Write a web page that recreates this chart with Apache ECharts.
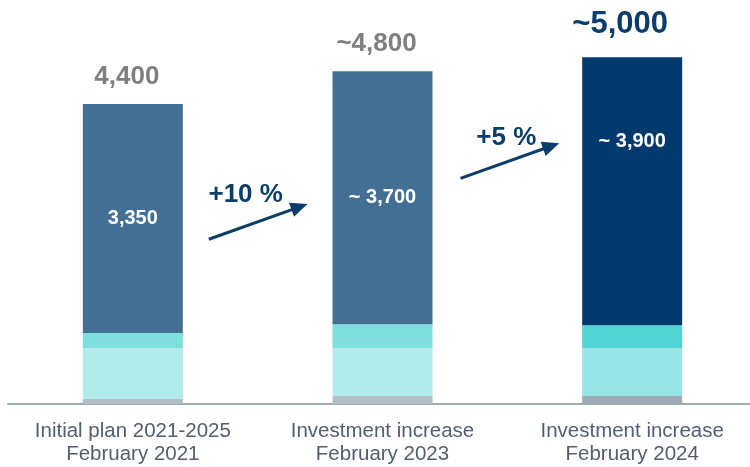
<!DOCTYPE html>
<html>
<head>
<meta charset="utf-8">
<style>html,body{margin:0;padding:0;background:#fff;}#c{width:750px;height:467px;}</style>
<script src="https://cdn.jsdelivr.net/npm/echarts@6/dist/echarts.min.js"></script>
</head>
<body>
<div id="c"></div>
<script>
var categories = ['Initial plan 2021-2025\nFebruary 2021', 'Investment increase\nFebruary 2023', 'Investment increase\nFebruary 2024'];
var grayValues = [75, 117, 117];
var lightValues = [745, 700, 700];
var tealValues = [220, 350, 336];
var darkValues = [3350, 3700, 3920];
var darkLabels = ['3,350', '~ 3,700', '~ 3,900'];
var totalValues = [4390, 4867, 5073];
var totalLabels = ['4,400', '~4,800', '~5,000'];
var growthLabels = ['+10 %', '+5 %'];

var grayColors = ['#b3bfc7', '#b3bfc7', '#9eabb7'];
var lightColors = ['#b1ebeb', '#b1ebeb', '#97e4e4'];
var tealColors = ['#7fdfdc', '#7fdfdc', '#52d4d4'];
var darkColors = ['#436f94', '#436f94', '#033a6e'];

function mk(vals, cols) {
  return vals.map(function (v, i) { return { value: v, itemStyle: { color: cols[i] } }; });
}

var chart = echarts.init(document.getElementById('c'));
var darkData = darkValues.map(function (v, i) {
  var d = { value: v, itemStyle: { color: darkColors[i] } };
  if (i === 2) d.label = { offset: [0, -50] };
  return d;
});

var totalData = totalValues.map(function (v, i) {
  var d = { value: v };
  if (i === 2) {
    d.label = { fontSize: 31, color: '#0a3d6e', distance: 17, offset: [-12, 0] };
  }
  return d;
});

chart.setOption({
  animation: false,
  grid: { left: 8, width: 749, top: 28, bottom: 63, containLabel: false, outerBoundsMode: 'none' },
  xAxis: {
    type: 'category',
    data: categories,
    axisLine: { lineStyle: { color: '#a0aab4', width: 2 } },
    axisTick: { show: false },
    axisLabel: {
      color: '#535e70', fontSize: 20.5, fontFamily: 'Liberation Sans, Arial, sans-serif',
      lineHeight: 23, margin: 16, interval: 0, hideOverlap: false
    }
  },
  yAxis: { type: 'value', min: 0, max: 5500, show: false, splitLine: { show: false } },
  series: [
    { type: 'bar', stack: 's', barWidth: 100, data: mk(grayValues, grayColors) },
    { type: 'bar', stack: 's', barWidth: 100, data: mk(lightValues, lightColors) },
    { type: 'bar', stack: 's', barWidth: 100, data: mk(tealValues, tealColors) },
    {
      type: 'bar', stack: 's', barWidth: 100, data: darkData,
      label: {
        show: true, position: 'inside', color: '#ffffff', fontWeight: 'bold', fontSize: 20,
        fontFamily: 'Liberation Sans, Arial, sans-serif',
        formatter: function (p) { return darkLabels[p.dataIndex]; }
      }
    },
    {
      type: 'scatter', symbolSize: 0, data: totalData, z: 5,
      itemStyle: { opacity: 1 },
      label: {
        show: true, position: 'top', distance: 14, offset: [-6, 0],
        color: '#7f7f7f', fontWeight: 'bold', fontSize: 26, opacity: 1,
        fontFamily: 'Liberation Sans, Arial, sans-serif',
        formatter: function (p) { return totalLabels[p.dataIndex]; }
      }
    }
  ]
});

// Growth arrows, positioned relative to the bar centres
function arrow(x1, y1, x2, y2, color) {
  var dx = x2 - x1, dy = y2 - y1, L = Math.sqrt(dx * dx + dy * dy);
  var ux = dx / L, uy = dy / L, nx = -uy, ny = ux;
  var hl = 17, hw = 7.5;
  var bx = x2 - hl * ux, by = y2 - hl * uy;
  return [
    { type: 'line', shape: { x1: x1, y1: y1, x2: bx + 2 * ux, y2: by + 2 * uy }, style: { stroke: color, lineWidth: 3 } },
    { type: 'polygon', shape: { points: [[x2, y2], [bx + hw * nx, by + hw * ny], [bx - hw * nx, by - hw * ny]] }, style: { fill: color } }
  ];
}
var c0 = chart.convertToPixel({ xAxisIndex: 0 }, 0);
var c1 = chart.convertToPixel({ xAxisIndex: 0 }, 1);
var c2 = chart.convertToPixel({ xAxisIndex: 0 }, 2);
function py(v) { return chart.convertToPixel({ yAxisIndex: 0 }, v); }
var col = '#0b3d6b';
var els = [];
els = els.concat(arrow(c0 + 76, py(2410), c1 - 75, py(2925), col));
els = els.concat(arrow(c1 + 78, py(3300), c2 - 73, py(3815), col));
els.push({ type: 'text', style: { text: growthLabels[0], x: (c0 + c1) / 2 - 12, y: py(3060), fill: col, font: 'bold 26px "Liberation Sans", Arial, sans-serif', align: 'center', verticalAlign: 'middle' } });
els.push({ type: 'text', style: { text: growthLabels[1], x: (c1 + c2) / 2 - 1, y: py(3890), fill: col, font: 'bold 26px "Liberation Sans", Arial, sans-serif', align: 'center', verticalAlign: 'middle' } });
chart.setOption({ graphic: els });
</script>
</body>
</html>
